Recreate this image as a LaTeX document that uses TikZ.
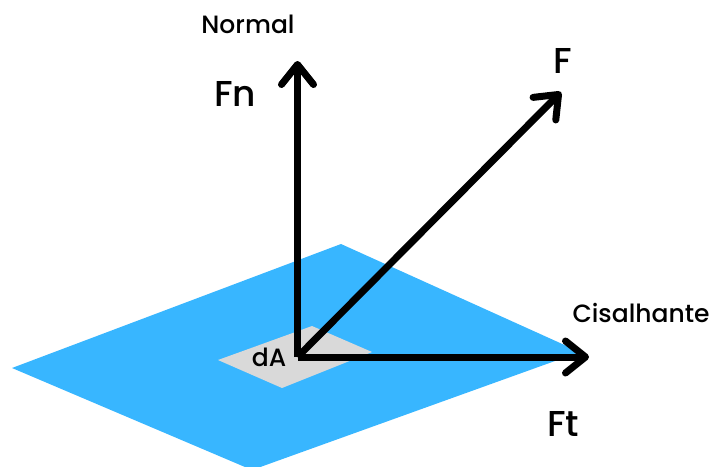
\documentclass[tikz,border=0pt]{standalone}
\usepackage{fontspec}
\setmainfont{Poppins Medium}
\usetikzlibrary{arrows.meta}
\definecolor{planeblue}{HTML}{38B6FF}
\definecolor{patchgray}{HTML}{D9D9D9}

\begin{document}
\begin{tikzpicture}[x=1pt, y=-1pt,
  vec/.style={-{Straight Barb[length=20pt, width=32pt, round, line width=7pt]}, line width=7pt, black},
  lab/.style={inner sep=0pt, text=black},
  big/.style={lab, font=\fontsize{36}{36}\selectfont},
  small/.style={lab, font=\fontsize{25}{25}\selectfont}]
\useasboundingbox (0,0) rectangle (712,466);
\clip (0,0) rectangle (712,466);
\fill[planeblue] (341,244) -- (580,352) -- (252,470) -- (12,368) -- cycle;
\fill[patchgray] (312,326) -- (372,352) -- (282,388) -- (218,360) -- cycle;
\coordinate (o) at (297.5,357);
\coordinate (nTip) at (297.5,61);
\coordinate (fTip) at (561,92);
\coordinate (tTip) at (589,357);
\draw[vec] (o) -- (nTip);
\draw[vec] (o) -- (fTip);
\draw[vec] (o) -- (tTip);
\node[small] (normal) at (248,24) {Normal};
\node[big] (fn) at (235,94) {Fn};
\node[big] (f) at (563,61) {F};
\node[small] (cis) at (641,313) {Cisalhante};
\node[big] (ft) at (563,424) {Ft};
\node[small] (da) at (269,357) {dA};
\end{tikzpicture}
\end{document}
